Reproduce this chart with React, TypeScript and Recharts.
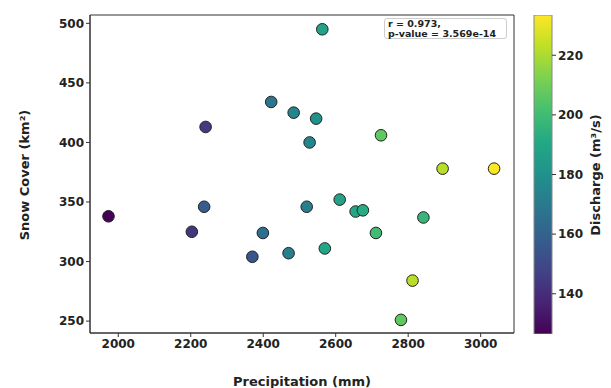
import {
  ScatterChart,
  Scatter,
  XAxis,
  YAxis,
  BarChart,
  Bar,
  ReferenceArea,
} from "recharts";

// Precipitation (mm), snow cover (km²), discharge (m³/s) per point
const precipitation = [
  1973, 2203, 2237, 2241, 2370, 2399, 2422, 2470, 2484, 2520, 2528, 2546,
  2563, 2570, 2611, 2655, 2675, 2711, 2725, 2780, 2812, 2842, 2895, 3037,
];
const snowCover = [
  338, 325, 346, 413, 304, 324, 434, 307, 425, 346, 400, 420,
  495, 311, 352, 342, 343, 324, 406, 251, 284, 337, 378, 378,
];
const discharge = [
  127, 143, 158, 145, 155, 165, 168, 172, 175, 172, 175, 180,
  188, 190, 188, 190, 192, 200, 207, 207, 222, 197, 222, 233,
];

const xTicks = [2000, 2200, 2400, 2600, 2800, 3000];
const yTicks = [250, 300, 350, 400, 450, 500];
const cbTicks = [140, 160, 180, 200, 220];
const xDomain = [1922, 3092];
const yDomain = [240, 507];
const cbMin = 126.5;
const cbMax = 233.5;

const viridis = [
  "#440154", "#482475", "#414487", "#355f8d", "#2a788e", "#21918c",
  "#22a884", "#44bf70", "#7ad151", "#bddf26", "#fde725",
];

function hexToRgb(h: string) {
  return [1, 3, 5].map((i) => parseInt(h.slice(i, i + 2), 16));
}

function viridisColor(v: number): string {
  const t = Math.max(0, Math.min(1, (v - cbMin) / (cbMax - cbMin)));
  const pos = t * (viridis.length - 1);
  const i = Math.min(Math.floor(pos), viridis.length - 2);
  const f = pos - i;
  const a = hexToRgb(viridis[i]);
  const b = hexToRgb(viridis[i + 1]);
  const c = a.map((x, k) => Math.round(x + (b[k] - x) * f));
  return `rgb(${c[0]},${c[1]},${c[2]})`;
}

const points = precipitation.map((p, i) => ({
  x: p,
  y: snowCover[i],
  q: discharge[i],
  color: viridisColor(discharge[i]),
}));

const colorbarData = [{ name: "cb", range: [cbMin, cbMax] }];

const FONT = "'DejaVu Sans', sans-serif";
const tickStyle = { fontSize: 12, fontWeight: 700, fill: "#222", fontFamily: FONT };
const titleStyle = {
  position: "absolute" as const,
  transform: "translate(-50%, -50%) rotate(-90deg)",
  fontSize: 13,
  fontWeight: 700,
  color: "#222",
  whiteSpace: "nowrap" as const,
};

function Dot(props: any) {
  const { cx, cy, payload } = props;
  return (
    <circle cx={cx} cy={cy} r={5.8} fill={payload.color} stroke="#222" strokeWidth={1} />
  );
}

export default function App() {
  return (
    <div
      style={{
        position: "absolute",
        left: 0,
        top: 0,
        width: 611,
        height: 388,
        background: "#fff",
        fontFamily: FONT,
      }}
    >
      <div style={{ position: "absolute", left: 0, top: 0 }}>
        <ScatterChart
          width={611}
          height={388}
          margin={{ top: 15, right: 97, bottom: 25, left: 40 }}
        >
          <XAxis
            type="number"
            dataKey="x"
            domain={xDomain}
            ticks={xTicks}
            allowDataOverflow
            height={30}
            tick={tickStyle}
            tickSize={4}
            tickLine={{ stroke: "#333" }}
            axisLine={{ stroke: "#333" }}
          />
          <YAxis
            type="number"
            dataKey="y"
            domain={yDomain}
            ticks={yTicks}
            allowDataOverflow
            width={50}
            tick={tickStyle}
            tickSize={4}
            tickLine={{ stroke: "#333" }}
            axisLine={{ stroke: "#333" }}
          />
          {/* frame around the plot area */}
          <ReferenceArea
            x1={xDomain[0]}
            x2={xDomain[1]}
            y1={yDomain[0]}
            y2={yDomain[1]}
            fill="none"
            stroke="#333"
            strokeWidth={1}
            ifOverflow="visible"
          />
          <Scatter data={points} shape={<Dot />} isAnimationActive={false} />
        </ScatterChart>
      </div>

      <div style={{ position: "absolute", left: 0, top: 0 }}>
        <BarChart
          width={611}
          height={388}
          data={colorbarData}
          barCategoryGap={0}
          margin={{ top: 15, right: 19, bottom: 54, left: 534 }}
        >
          <defs>
            <linearGradient id="viridis" x1="0" y1="1" x2="0" y2="0">
              {viridis.map((c, i) => (
                <stop key={i} offset={i / (viridis.length - 1)} stopColor={c} />
              ))}
            </linearGradient>
          </defs>
          <XAxis dataKey="name" hide />
          <YAxis
            orientation="right"
            type="number"
            domain={[cbMin, cbMax]}
            ticks={cbTicks}
            allowDataOverflow
            width={40}
            tick={tickStyle}
            tickSize={4}
            tickLine={{ stroke: "#333" }}
            axisLine={false}
          />
          <Bar
            dataKey="range"
            fill="url(#viridis)"
            stroke="#888"
            strokeWidth={1}
            isAnimationActive={false}
          />
        </BarChart>
      </div>

      <div
        style={{
          position: "absolute",
          left: 384,
          top: 18,
          width: 118,
          height: 19,
          border: "1px solid #ccc",
          borderRadius: 3,
          background: "#fff",
          fontSize: 9.5,
          fontWeight: 700,
          lineHeight: "10px",
          padding: "0 0 0 3px",
          color: "#222",
          whiteSpace: "pre",
        }}
      >
        {"r = 0.973,\np-value = 3.569e-14"}
      </div>

      <div
        style={{
          position: "absolute",
          left: 302,
          top: 381,
          transform: "translate(-50%, -50%)",
          fontSize: 13,
          fontWeight: 700,
          color: "#222",
          whiteSpace: "nowrap",
        }}
      >
        Precipitation (mm)
      </div>

      <div style={{ ...titleStyle, left: 24, top: 175 }}>Snow Cover (km²)</div>
      <div style={{ ...titleStyle, left: 595, top: 175 }}>Discharge (m³/s)</div>
    </div>
  );
}
